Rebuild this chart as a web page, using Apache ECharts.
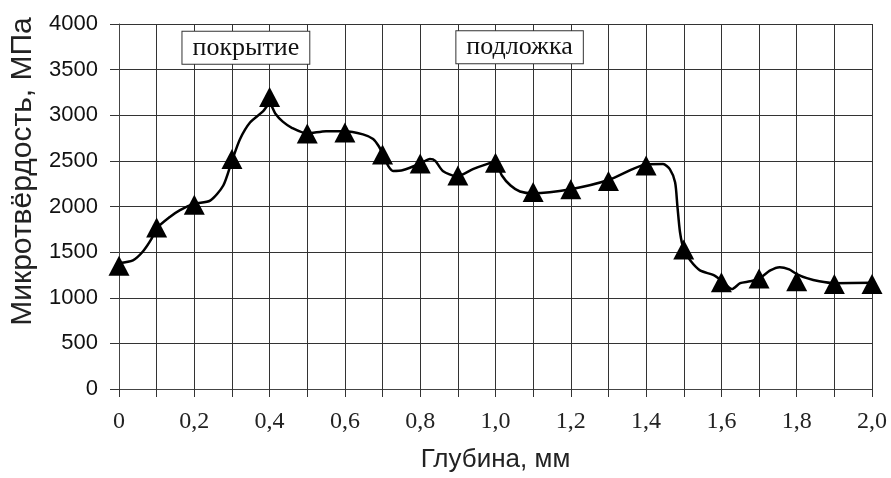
<!DOCTYPE html>
<html>
<head>
<meta charset="utf-8">
<script src="https://cdn.jsdelivr.net/npm/echarts@6/dist/echarts.min.js"></script>
<style>
  html, body { margin: 0; padding: 0; background: #fff; }
  #chart { width: 891px; height: 478px; }
</style>
</head>
<body>
<div id="chart"></div>
<script>
// measured points (triangles)
const depth = [0, 0.1, 0.2, 0.3, 0.4, 0.5, 0.6, 0.7, 0.8, 0.9, 1.0, 1.1, 1.2, 1.3, 1.4, 1.5, 1.6, 1.7, 1.8, 1.9, 2.0];
const hardness = [1350, 1770, 2020, 2520, 3200, 2800, 2810, 2570, 2470, 2340, 2480, 2160, 2190, 2280, 2450, 1530, 1170, 1210, 1180, 1150, 1150];

// hand-drawn trend curve
const curveX = [0, 0.037, 0.064, 0.087, 0.1, 0.135, 0.162, 0.2, 0.242, 0.277, 0.3, 0.321, 0.348, 0.383, 0.4,
  0.415, 0.435, 0.46, 0.5, 0.55, 0.6, 0.648, 0.675, 0.69, 0.7, 0.715, 0.728, 0.755, 0.8, 0.826, 0.84, 0.86,
  0.897, 0.94, 0.977, 1.0, 1.017, 1.04, 1.065, 1.1, 1.2, 1.3, 1.4, 1.445, 1.463, 1.477, 1.483, 1.49, 1.5,
  1.517, 1.543, 1.578, 1.6, 1.628, 1.65, 1.676, 1.7, 1.73, 1.755, 1.78, 1.8, 1.827, 1.86, 1.9, 2.0];
const curveY = [1380, 1410, 1510, 1650, 1760, 1885, 1960, 2030, 2065, 2230, 2500, 2735, 2920, 3045, 3130,
  3020, 2930, 2860, 2800, 2826, 2826, 2790, 2740, 2660, 2580, 2445, 2390, 2400, 2470, 2520, 2500, 2390,
  2330, 2410, 2465, 2490, 2340, 2230, 2165, 2145, 2190, 2290, 2460, 2465, 2410, 2265, 2010, 1720, 1530,
  1410, 1300, 1250, 1190, 1095, 1160, 1180, 1210, 1300, 1335, 1310, 1260, 1215, 1180, 1160, 1165];

const labels = [
  { text: 'покрытие', x: 0.337, y: 3740 },
  { text: 'подложка', x: 1.064, y: 3745 }
];

const chart = echarts.init(document.getElementById('chart'));

function xLabel(v) {
  const t = Math.round(v * 10);
  if (t % 2) return '';
  if (t === 0) return '0';
  return (t / 10).toFixed(1).replace('.', ',');
}

chart.setOption({
  animation: false,
  backgroundColor: '#fff',
  grid: { left: 119, right: 19, top: 24, bottom: 86 },
  xAxis: {
    type: 'value',
    min: 0, max: 2, interval: 0.1,
    name: 'Глубина, мм',
    nameLocation: 'middle',
    nameGap: 58,
    nameTextStyle: { fontFamily: 'Liberation Sans', fontSize: 26, color: '#222' },
    axisLine: { lineStyle: { color: '#444', width: 1 } },
    axisTick: { show: true, length: 8, lineStyle: { color: '#333' } },
    axisLabel: {
      formatter: xLabel, margin: 21, showMinLabel: true, showMaxLabel: true,
      fontFamily: 'Liberation Serif', fontSize: 24, color: '#222'
    },
    splitLine: { show: true, lineStyle: { color: '#333', width: 1 } }
  },
  yAxis: {
    type: 'value',
    min: 0, max: 4000, interval: 500,
    name: 'Микротвёрдость, МПа',
    nameLocation: 'middle',
    nameGap: 80,
    nameTextStyle: { fontFamily: 'Liberation Sans', fontSize: 30, color: '#222', padding: [0, 0, 0, 70] },
    axisLine: { show: true, lineStyle: { color: '#444', width: 1 } },
    axisTick: { show: true, length: 9, lineStyle: { color: '#333' } },
    axisLabel: { margin: 21, fontFamily: 'Liberation Sans', fontSize: 22, color: '#111', formatter: v => String(v) },
    splitLine: { show: true, lineStyle: { color: '#333', width: 1 } }
  },
  series: [
    {
      type: 'line',
      data: curveX.map((x, i) => [x, curveY[i]]),
      smooth: 0.25,
      showSymbol: false,
      lineStyle: { color: '#000', width: 2.5 },
      z: 3
    },
    {
      type: 'scatter',
      data: depth.map((x, i) => [x, hardness[i]]),
      symbol: 'triangle',
      symbolSize: [21, 20],
      itemStyle: { color: '#000', opacity: 1 },
      z: 4
    }
  ]
});

chart.setOption({
  graphic: labels.map(l => {
    const p = chart.convertToPixel({ gridIndex: 0 }, [l.x, l.y]);
    return {
      type: 'text',
      x: p[0], y: p[1],
      z: 10,
      style: {
        text: l.text,
        font: '26px "Liberation Serif"',
        fill: '#111',
        align: 'center',
        verticalAlign: 'middle',
        backgroundColor: '#fff',
        borderColor: '#333',
        borderWidth: 1,
        padding: [3, 10, 3, 10]
      }
    };
  })
});
</script>
</body>
</html>
